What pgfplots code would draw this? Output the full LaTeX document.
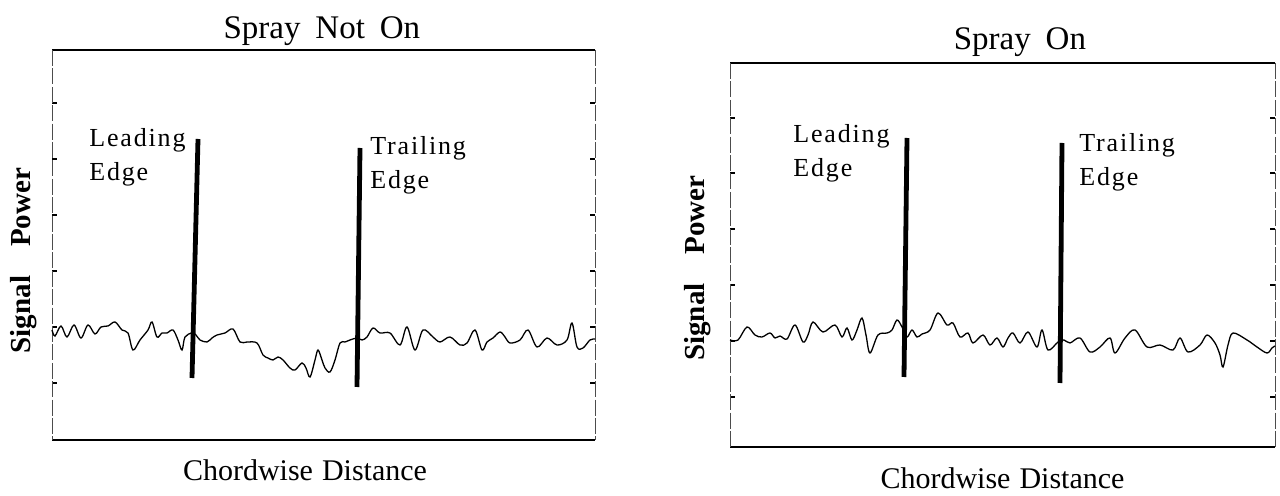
\documentclass[border=0pt]{standalone}
\usepackage{fontspec}
\setmainfont{Liberation Serif}
\newfontfamily\lbl[LetterSpace=7]{Liberation Serif}
\usepackage{pgfplots}
\pgfplotsset{compat=1.18}
\pgfplotsset{
  scanframe/.style={
    scale only axis, clip=false, y dir=reverse,
    separate axis lines,
    every outer x axis line/.append style={line width=1.1pt},
    every outer y axis line/.append style={line width=0.4pt, black!70, dash pattern=on 8pt off 1.2pt},
    xtick=\empty, yticklabels={}, ytick pos=both,
    tick align=inside, major tick length=2.5pt,
    every tick/.style={black, line width=0.8pt},
    every axis title shift=0pt,
    title style={font=\fontsize{16.5}{18}\selectfont, anchor=base},
    xlabel style={font=\fontsize{15}{17}\selectfont, anchor=base},
    ylabel style={font=\fontsize{14.5}{16}\selectfont\bfseries, anchor=center},
  },
  sig/.style={black, line width=0.65pt, smooth, tension=0.55, mark=none},
  edge/.style={black, line width=2.4pt, mark=none},
}
\begin{document}
\begin{tikzpicture}
\path[use as bounding box] (0,0) rectangle (640pt,248pt);
% ---------------- Spray Not On ----------------
\begin{axis}[scanframe,
  at={(26pt,28pt)}, anchor=south west, width=271.5pt, height=195pt,
  xmin=52, xmax=595, ymin=50, ymax=440,
  ytick={103,159,215,271,327,383},
  title={Spray\hspace{0.45em}Not\hspace{0.45em}On},
  title style={at={(axis description cs:0.497,1.03)}},
  xlabel={Chordwise\hspace{0.3em}Distance},
  xlabel style={at={(axis description cs:0.466,-0.103)}},
  ylabel={Signal\hspace{1.0em}Power},
  ylabel style={at={(axis description cs:-0.053,0.46)}},
]
\addplot[sig] coordinates {
(52,330) (55,336) (61,326) (67,337) (74,325) (81,338) (88,325) (95,334)
(101,327) (108,326) (115,322) (122,330) (128,333) (133,350) (140,340)
(148,330) (152,322) (157,337) (162,333) (167,333) (173,330) (178,340)
(182,350) (185,337) (192,333) (196,335) (200,340) (207,342) (212,338)
(217,335) (225,333) (233,329) (240,342) (247,342) (257,343) (263,355)
(268,358) (273,360) (278,357) (283,360) (290,368) (295,370) (302,363)
(306,368) (310,377) (315,360) (318,350) (322,360) (325,368) (330,372)
(335,360) (340,343) (345,342) (350,340) (357,338) (362,340) (367,337)
(373,328) (380,333) (390,333) (400,345) (407,327) (415,350) (423,330)
(433,337) (440,342) (450,337) (460,345) (467,343) (475,330) (482,350)
(487,342) (493,338) (500,332) (505,337) (510,343) (520,340) (528,330)
(537,347) (547,338) (557,345) (567,340) (572,323) (577,347) (583,348)
(590,340) (595,339)
};
\addplot[edge] coordinates {(198,139) (192,378)};
\addplot[edge] coordinates {(360,148) (357,387)};
\node[anchor=north west, align=left, inner sep=0pt, font=\lbl\fontsize{13}{17}\selectfont] at (axis cs:89,128) {Leading\\Edge};
\node[anchor=north west, align=left, inner sep=0pt, font=\lbl\fontsize{13}{17}\selectfont] at (axis cs:370,136) {Trailing\\Edge};
\end{axis}
% ---------------- Spray On ----------------
\begin{axis}[scanframe,
  at={(365pt,24.5pt)}, anchor=south west, width=272.5pt, height=192pt,
  xmin=730, xmax=1275, ymin=63, ymax=447,
  ytick={118,173,229,285,341,397},
  title={Spray\hspace{0.45em}On},
  title style={at={(axis description cs:0.532,1.034)}},
  xlabel={Chordwise\hspace{0.3em}Distance},
  xlabel style={at={(axis description cs:0.5,-0.107)}},
  ylabel={Signal\hspace{1.0em}Power},
  ylabel style={at={(axis description cs:-0.059,0.466)}},
]
\addplot[sig] coordinates {
(730,340) (738,340) (747,327) (755,335) (762,337) (770,333) (775,338)
(780,336) (787,339) (795,325) (803,342) (808,335) (813,322) (823,332)
(835,325) (842,337) (847,328) (852,340) (857,330) (862,318) (866,335)
(870,353) (878,335) (887,333) (892,330) (897,320) (902,327) (907,337)
(912,330) (917,337) (922,334) (930,330) (938,313) (947,325) (953,323)
(960,337) (968,333) (973,343) (983,335) (990,345) (997,338) (1003,347)
(1008,338) (1013,333) (1020,343) (1028,332) (1037,347) (1042,330)
(1048,350) (1058,342) (1064,340) (1070,343) (1080,338) (1090,352)
(1100,347) (1110,338) (1115,353) (1125,338) (1135,330) (1147,347)
(1160,345) (1173,350) (1180,338) (1188,352) (1200,345) (1207,335)
(1215,343) (1220,355) (1223,367) (1228,345) (1233,333) (1247,340)
(1257,347) (1267,353) (1272,348) (1275,346)
};
\addplot[edge] coordinates {(907,138) (904,377)};
\addplot[edge] coordinates {(1062,143) (1060,383)};
\node[anchor=north west, align=left, inner sep=0pt, font=\lbl\fontsize{13}{17}\selectfont] at (axis cs:793,124) {Leading\\Edge};
\node[anchor=north west, align=left, inner sep=0pt, font=\lbl\fontsize{13}{17}\selectfont] at (axis cs:1079,133) {Trailing\\Edge};
\end{axis}
\end{tikzpicture}
\end{document}
